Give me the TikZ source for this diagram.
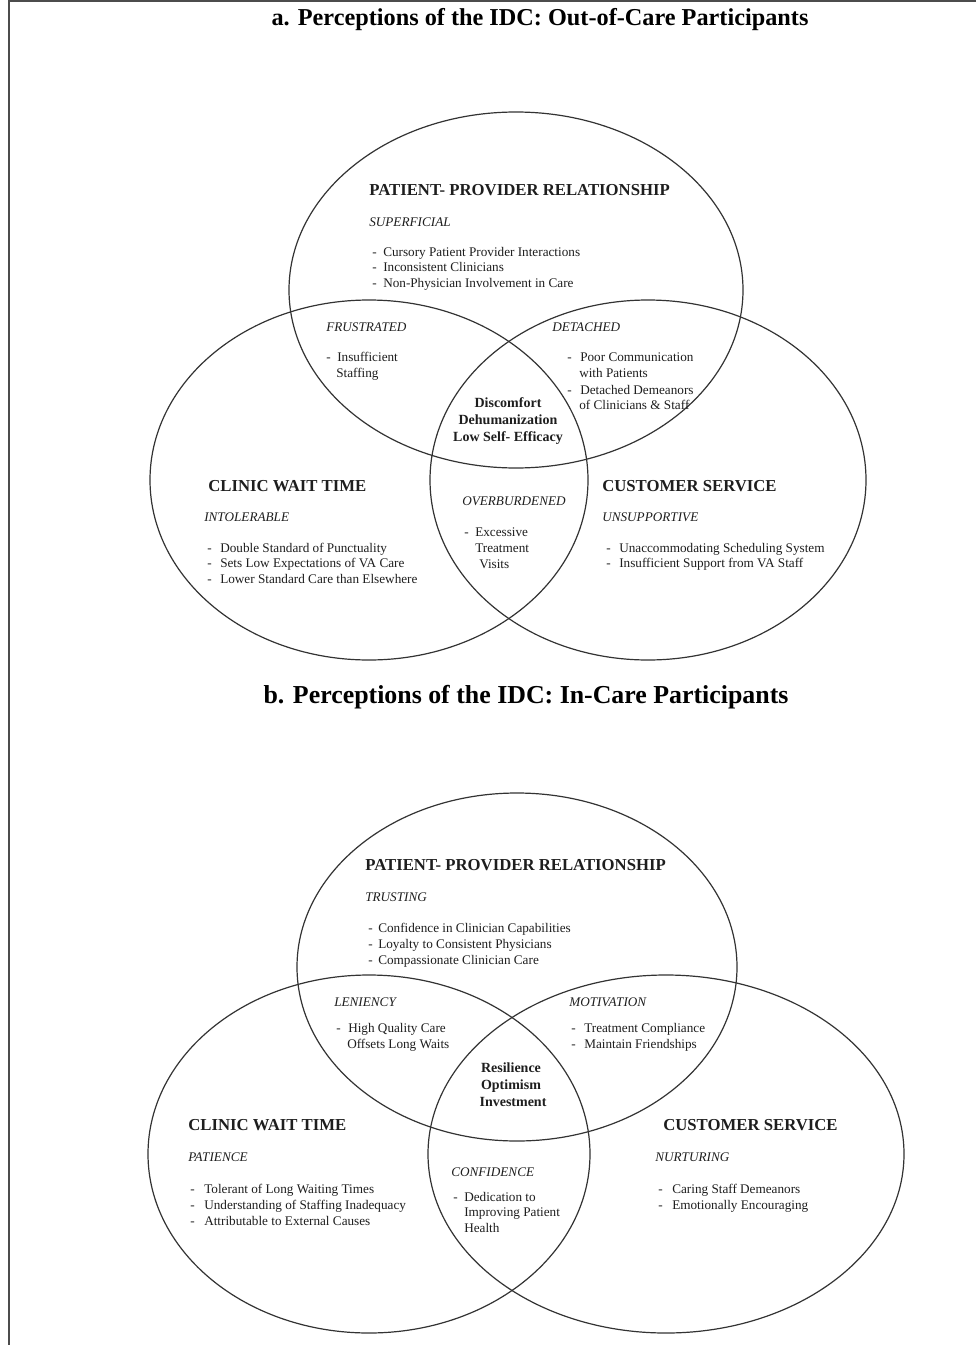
\documentclass[tikz,border=0pt]{standalone}
\usepackage{fontspec}
\setmainfont{Liberation Serif}
\definecolor{ink}{HTML}{1E1E1E}
\definecolor{edge}{HTML}{333333}
\tikzset{
  t/.style={anchor=base west, inner sep=0pt, text=ink, font=\fontsize{9.9}{11.6}\selectfont},
  it/.style={t, font=\fontsize{9.9}{11.6}\selectfont\itshape},
  hd/.style={t, font=\fontsize{12.55}{14}\selectfont\bfseries},
  ctr/.style={anchor=base, inner sep=0pt, text=ink, font=\fontsize{10.5}{12}\selectfont\bfseries},
  ttl/.style={anchor=base, inner sep=0pt, text=black, font=\fontsize{18.2}{20}\selectfont\bfseries},
  ttlb/.style={ttl, font=\fontsize{19.4}{21}\selectfont\bfseries},
  venn/.style={draw=edge, line width=0.9pt},
  frame/.style={draw=gray!60!black, line width=1pt}
}
\begin{document}
\begin{tikzpicture}[x=0.75pt,y=-0.75pt]
\useasboundingbox (0,0) rectangle (976,1345);
\fill[white] (0,0) rectangle (976,1345);
\draw[frame] (976,1) -- (9,1) -- (9,1345);

% ---------- Part a ----------
\node[ttl] (ta) at (540,26) {a. Perceptions of the IDC: Out-of-Care Participants};
\draw[venn] (516,290) ellipse [x radius=227, y radius=178];
\draw[venn] (369,480) ellipse [x radius=219, y radius=180];
\draw[venn] (648,480) ellipse [x radius=218, y radius=180];

\node[hd] (a1) at (369,195) {PATIENT- PROVIDER RELATIONSHIP};
\node[it] (a2) at (369,226) {SUPERFICIAL};
\node[t] (a3d) at (372,256) {-};
\node[t] (a3) at (383,256) {Cursory Patient Provider Interactions};
\node[t] (a4d) at (372,271) {-};
\node[t] (a4) at (383,271) {Inconsistent Clinicians};
\node[t] (a5d) at (372,287) {-};
\node[t] (a5) at (383,287) {Non-Physician Involvement in Care};

\node[it] (a6) at (326,331) {FRUSTRATED};
\node[t] (a7d) at (326,361) {-};
\node[t] (a7) at (337,361) {Insufficient};
\node[t] (a8) at (336,377) {Staffing};

\node[it] (a9) at (552,331) {DETACHED};
\node[t] (a10d) at (567,361) {-};
\node[t] (a10) at (580,361) {Poor Communication};
\node[t] (a11) at (579,377) {with Patients};
\node[t] (a12d) at (567,394) {-};
\node[t] (a12) at (580,394) {Detached Demeanors};
\node[t] (a13) at (579,409) {of Clinicians \& Staff};

\node[ctr] (a14) at (508,407) {Discomfort};
\node[ctr] (a15) at (508,424) {Dehumanization};
\node[ctr] (a16) at (508,441) {Low Self- Efficacy};

\node[hd] (a17) at (208,491) {CLINIC WAIT TIME};
\node[it] (a18) at (204,521) {INTOLERABLE};
\node[t] (a19d) at (207,552) {-};
\node[t] (a19) at (220,552) {Double Standard of Punctuality};
\node[t] (a20d) at (207,567) {-};
\node[t] (a20) at (220,567) {Sets Low Expectations of VA Care};
\node[t] (a21d) at (207,583) {-};
\node[t] (a21) at (220,583) {Lower Standard Care than Elsewhere};

\node[it] (a22) at (462,505) {OVERBURDENED};
\node[t] (a23d) at (464,536) {-};
\node[t] (a23) at (475,536) {Excessive};
\node[t] (a24) at (475,552) {Treatment};
\node[t] (a25) at (479,568) {Visits};

\node[hd] (a26) at (602,491) {CUSTOMER SERVICE};
\node[it] (a27) at (602,521) {UNSUPPORTIVE};
\node[t] (a28d) at (606,552) {-};
\node[t] (a28) at (619,552) {Unaccommodating Scheduling System};
\node[t] (a29d) at (606,567) {-};
\node[t] (a29) at (619,567) {Insufficient Support from VA Staff};

% ---------- Part b ----------
\node[ttlb] (tb) at (526,703) {b. Perceptions of the IDC: In-Care Participants};
\draw[venn] (517,967) ellipse [x radius=220, y radius=174];
\draw[venn] (369,1154) ellipse [x radius=221, y radius=179];
\draw[venn] (666,1154) ellipse [x radius=238, y radius=179];

\node[hd] (b1) at (365,870) {PATIENT- PROVIDER RELATIONSHIP};
\node[it] (b2) at (365,901) {TRUSTING};
\node[t] (b3d) at (368,932) {-};
\node[t] (b3) at (378,932) {Confidence in Clinician Capabilities};
\node[t] (b4d) at (368,948) {-};
\node[t] (b4) at (378,948) {Loyalty to Consistent Physicians};
\node[t] (b5d) at (368,964) {-};
\node[t] (b5) at (378,964) {Compassionate Clinician Care};

\node[it] (b6) at (334,1006) {LENIENCY};
\node[t] (b7d) at (336,1032) {-};
\node[t] (b7) at (348,1032) {High Quality Care};
\node[t] (b8) at (347,1048) {Offsets Long Waits};

\node[it] (b9) at (569,1006) {MOTIVATION};
\node[t] (b10d) at (571,1032) {-};
\node[t] (b10) at (584,1032) {Treatment Compliance};
\node[t] (b11d) at (571,1048) {-};
\node[t] (b11) at (584,1048) {Maintain Friendships};

\node[ctr] (b12) at (511,1072) {Resilience};
\node[ctr] (b13) at (511,1089) {Optimism};
\node[ctr] (b14) at (513,1106) {Investment};

\node[hd] (b15) at (188,1130) {CLINIC WAIT TIME};
\node[it] (b16) at (188,1161) {PATIENCE};
\node[t] (b17d) at (190,1193) {-};
\node[t] (b17) at (204,1193) {Tolerant of Long Waiting Times};
\node[t] (b18d) at (190,1209) {-};
\node[t] (b18) at (204,1209) {Understanding of Staffing Inadequacy};
\node[t] (b19d) at (190,1225) {-};
\node[t] (b19) at (204,1225) {Attributable to External Causes};

\node[it] (b20) at (451,1176) {CONFIDENCE};
\node[t] (b21d) at (453,1201) {-};
\node[t] (b21) at (464,1201) {Dedication to};
\node[t] (b22) at (464,1216) {Improving Patient};
\node[t] (b23) at (464,1232) {Health};

\node[hd] (b24) at (663,1130) {CUSTOMER SERVICE};
\node[it] (b25) at (655,1161) {NURTURING};
\node[t] (b26d) at (658,1193) {-};
\node[t] (b26) at (672,1193) {Caring Staff Demeanors};
\node[t] (b27d) at (658,1209) {-};
\node[t] (b27) at (672,1209) {Emotionally Encouraging};
\end{tikzpicture}
\end{document}
